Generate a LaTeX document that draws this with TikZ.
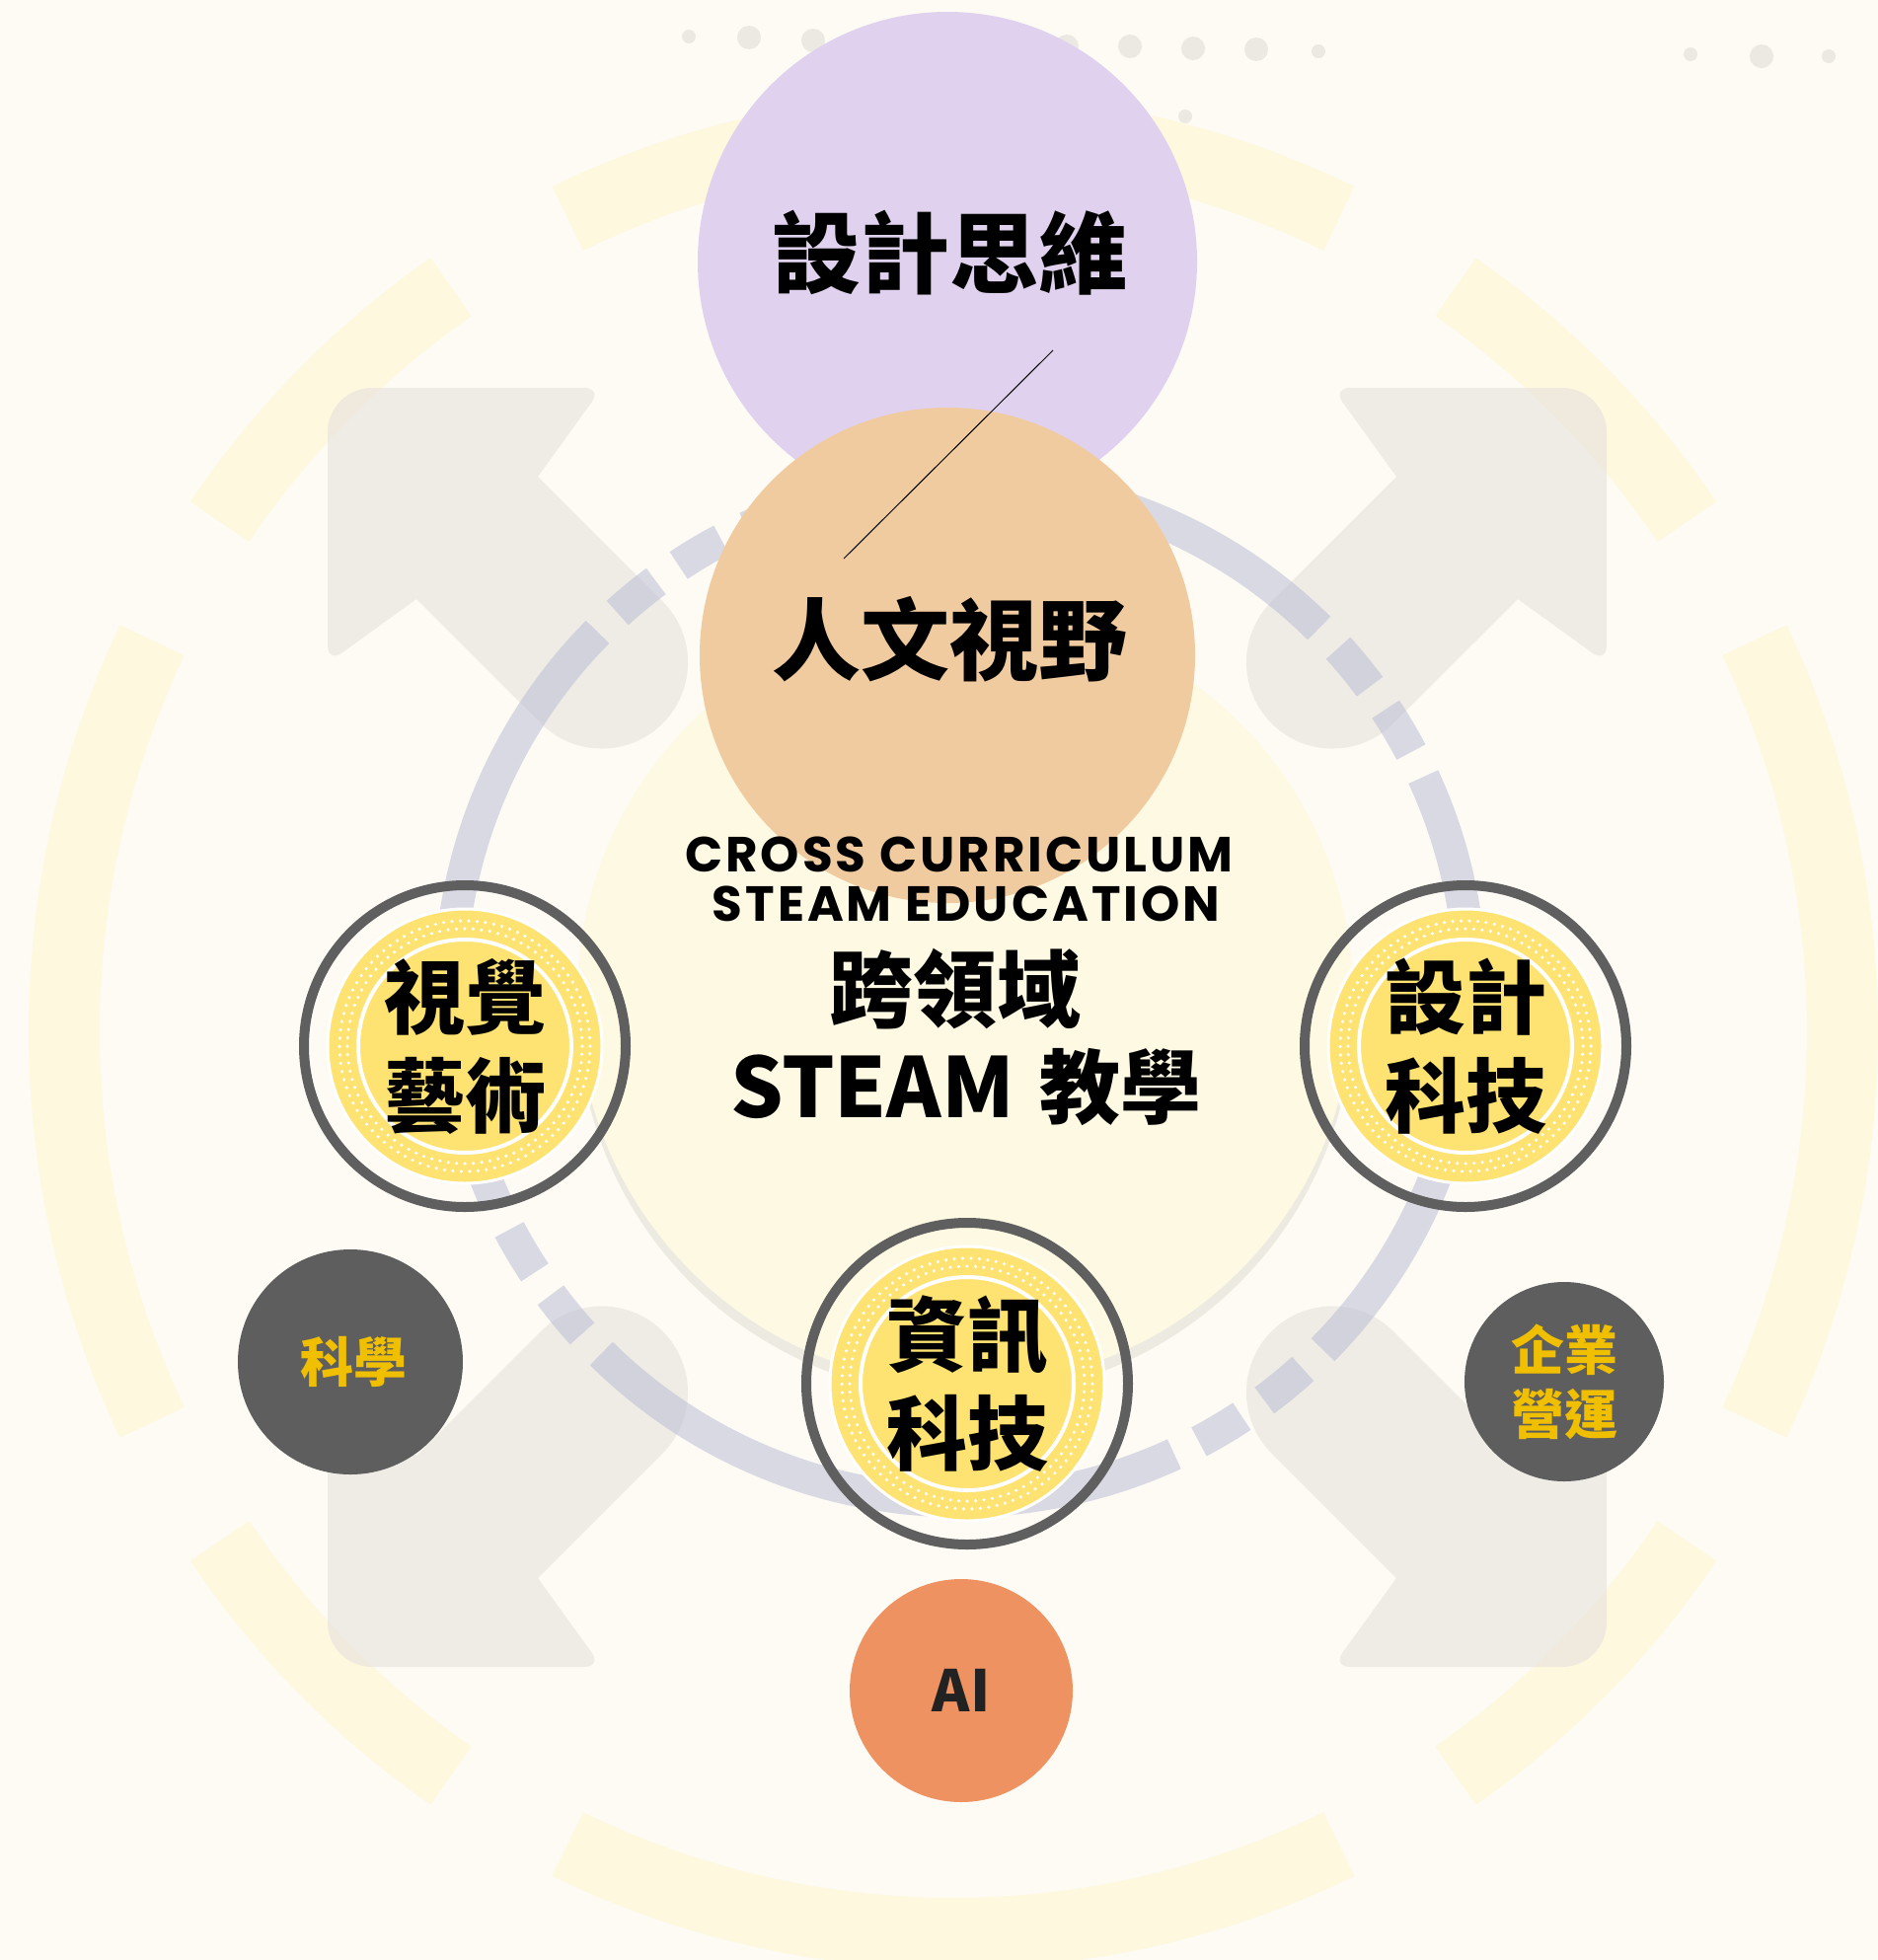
\documentclass[tikz,border=0pt]{standalone}
\usepackage{fontspec}
\usepackage{tikz}
\usetikzlibrary{positioning}
\newfontfamily\cjkfont{Noto Sans CJK TC}
\newfontfamily\capsfont{Poppins}[LetterSpace=6.0]

\definecolor{bgcream}{HTML}{FDFBF4}
\definecolor{bandyellow}{HTML}{FEF8DF}
\definecolor{diskyellow}{HTML}{FEF9E2}
\definecolor{shadowgray}{HTML}{EDEAE1}
\definecolor{arrowgray}{RGB}{230,226,221}
\definecolor{ringlav}{RGB}{183,185,212}
\definecolor{thinkpurple}{HTML}{E0D2EE}
\definecolor{viewpeach}{HTML}{F1CBA0}
\definecolor{ringgray}{HTML}{5F5F5F}
\definecolor{medalyellow}{HTML}{FFE372}
\definecolor{diskgray}{HTML}{5E5E5E}
\definecolor{gold}{HTML}{F0C000}
\definecolor{aiorange}{HTML}{EE9261}
\definecolor{aitext}{HTML}{222222}
\definecolor{dotgray}{HTML}{ECE9E2}

\tikzset{
  medal/.style={circle, minimum size=326pt, inner sep=0pt, draw=ringgray, line width=10pt,
    align=center, text=black, font=\cjkfont\bfseries\fontsize{82}{100}\selectfont,
    path picture={
      \fill[medalyellow] (path picture bounding box.center) circle (138);
      \draw[white, line width=3pt] (path picture bounding box.center) circle (139);
      \draw[white, line width=3.5pt, line cap=round, dash pattern=on 0pt off 8.5pt] (path picture bounding box.center) circle (127);
      \draw[white, line width=3.5pt, line cap=round, dash pattern=on 0pt off 8.5pt] (path picture bounding box.center) circle (119);
      \draw[white, line width=4pt] (path picture bounding box.center) circle (108);
    }},
  darkdisk/.style={circle, fill=diskgray, inner sep=0pt, align=center, text=gold,
    font=\cjkfont\bfseries\fontsize{54}{65}\selectfont},
  lavring/.style={draw=ringlav, draw opacity=0.5, line width=33pt},
  band/.style={draw=bandyellow, line width=72pt},
  arrowfill/.style={fill=arrowgray, fill opacity=0.6},
  topdot/.style={fill=dotgray},
}

% one corner arrow, upper left copy
\newcommand{\cornerarrow}{%
  \fill[arrowfill] (545,483) -- (671.5,609.5) arc[start angle=-45, end angle=135, radius=87.3]
    -- (422,607) [rounded corners=18pt] -- (332,672) [rounded corners=45pt] -- (332,393)
    [rounded corners=18pt] -- (610,393) [sharp corners] -- cycle;}

\begin{document}
\begin{tikzpicture}[x=1pt,y=1pt,yscale=-1]
    \useasboundingbox (0,0) rectangle (1903,1986);
    \fill[bgcream] (0,0) rectangle (1903,1986);

    % dots along the top
    \foreach \dx/\dy in {759/38, 824/41, 1081/47, 1145/47, 1209/49, 1273/50, 1785/57}
      \fill[topdot] (\dx,\dy) circle (12);
    \foreach \dx/\dy in {698/37, 1336/52, 1713/55, 1853/57, 1201/118}
      \fill[topdot] (\dx,\dy) circle (7);

    % faint yellow band
    \coordinate (bandc) at (966,1045);
    \foreach \m/\h in {0/25.7, 45/10.6, 90/25.7, 135/10.6, 180/25.7, 225/10.6, 270/25.7, 315/10.6}
      \draw[band] (bandc) ++({901*cos(-\m+\h)},{914*sin(-\m+\h)})
        arc[start angle=-\m+\h, end angle=-\m-\h, x radius=901, y radius=914];

    % central disk
    \coordinate (diskc) at (978,1010);
    \fill[shadowgray] ([yshift=12pt]diskc) circle (393);
    \fill[diskyellow] (diskc) circle (393);

    % four corner arrows
    \cornerarrow
    \begin{scope}[shift={(1960,0)}, xscale=-1] \cornerarrow \end{scope}
    \begin{scope}[shift={(0,2082)}, yscale=-1] \cornerarrow \end{scope}
    \begin{scope}[shift={(1960,2082)}, xscale=-1, yscale=-1] \cornerarrow \end{scope}

    % dashed ring
    \coordinate (ringc) at (973,1004);
    \foreach \k in {0,90,180,270}{
      \draw[lavring] (ringc) ++(-45.3-\k:517) arc[start angle=-45.3-\k, end angle=-114.8-\k, radius=517];
      \draw[lavring] (ringc) ++(-36.6-\k:517) arc[start angle=-36.6-\k, end angle=-42.2-\k, radius=517];
      \draw[lavring] (ringc) ++(-27.9-\k:517) arc[start angle=-27.9-\k, end angle=-33.5-\k, radius=517];
    }

    % top circles
    \node[circle, fill=thinkpurple, minimum size=506pt, inner sep=0pt] (thinkdisk) at (960,265) {};
    \node[circle, fill=viewpeach, minimum size=502pt, inner sep=0pt] (viewdisk) at (960,664) {};
    \node[font=\cjkfont\bfseries\fontsize{90}{90}\selectfont] (think) at (962,256) {設計思維};
    \node[font=\cjkfont\bfseries\fontsize{90}{90}\selectfont] (view) at (962,648) {人文視野};
    \coordinate (linetop) at (1067,355);
    \coordinate (linebot) at (855,566);
    \draw[line width=1pt] (linetop) -- (linebot);

    % center title
    \node[font=\capsfont\bfseries\fontsize{50}{50}\selectfont] (cross) at (972,866) {CROSS CURRICULUM};
    \node[font=\capsfont\bfseries\fontsize{50}{50}\selectfont] (edu) at (979,916) {STEAM EDUCATION};
    \node[font=\cjkfont\bfseries\fontsize{85}{85}\selectfont] (kua) at (968,1002) {跨領域};
    \node[font=\cjkfont\bfseries] (teach) at (979,1101) {{\fontsize{84}{84}\selectfont STEAM}\hspace{26pt}{\fontsize{82}{82}\selectfont 教學}};

    % medals
    \node[medal] (visual) at (471,1060) {視覺\\藝術};
    \node[medal] (design) at (1485,1060) {設計\\科技};
    \node[medal] (info) at (980,1402) {資訊\\科技};

    % small disks
    \node[darkdisk, minimum size=228pt] (science) at (355,1380) {\hspace{6pt}科學};
    \node[darkdisk, minimum size=202pt] (business) at (1585,1400) {企業\\營運};
    \node[circle, fill=aiorange, minimum size=226pt, inner sep=0pt, text=aitext,
      font=\cjkfont\bfseries\fontsize{58}{58}\selectfont] (ai) at (974,1713) {AI};
\end{tikzpicture}
\end{document}
